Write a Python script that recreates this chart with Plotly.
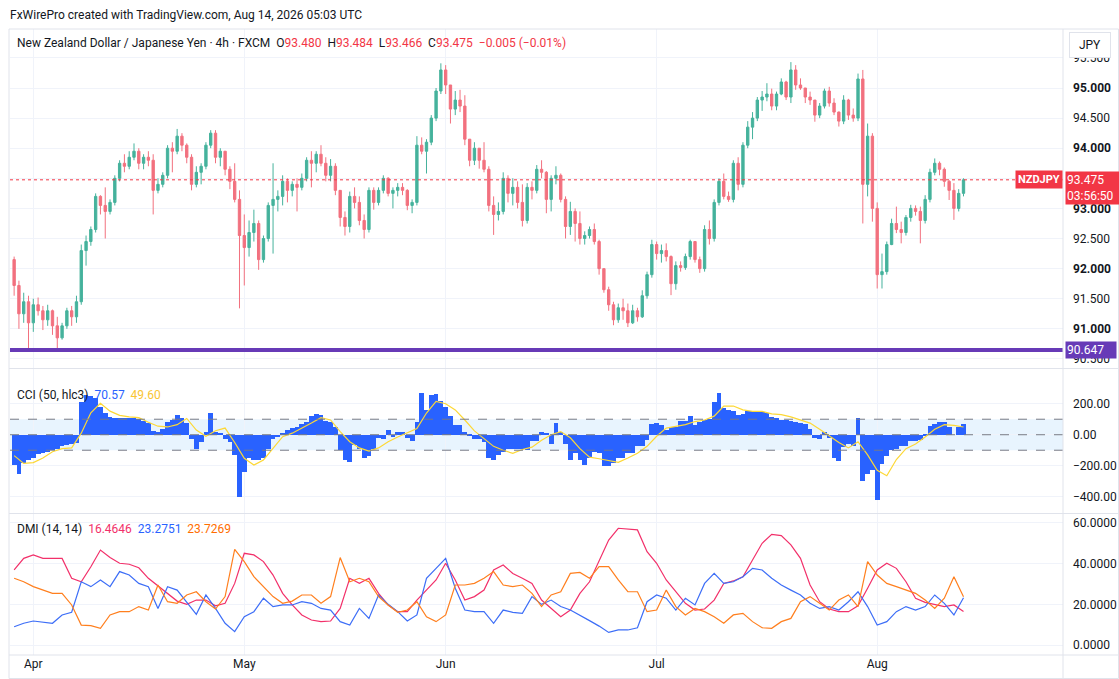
import pandas as pd
import plotly.graph_objects as go
from plotly.subplots import make_subplots

# ---------------- data (12h candles, NZDJPY) ----------------
open_ = [92.15,91.72,91.25,91.45,91.10,91.40,91.30,91.15,91.30,91.05,90.85,91.05,91.30,91.20,91.45,92.30,92.45,92.65,93.20,93.05,
         92.95,93.10,93.50,93.75,93.70,93.85,93.95,93.75,93.85,93.80,93.30,93.40,93.55,94.00,93.95,94.20,94.05,93.85,93.40,93.60,
         93.70,94.05,94.25,93.85,93.95,93.65,93.45,93.15,92.55,92.35,92.60,92.75,92.15,92.50,93.05,93.15,93.20,93.45,93.30,93.40,
         93.35,93.50,93.80,93.75,93.90,93.75,93.55,93.70,93.30,92.85,92.70,93.20,93.10,92.80,92.65,93.30,93.10,93.30,93.50,93.25,
         93.30,93.35,93.30,93.05,93.10,94.05,93.95,94.10,94.50,94.95,95.30,95.05,94.65,94.80,94.70,94.15,93.80,94.00,93.80,93.65,
         93.05,92.90,92.95,93.50,93.25,93.35,93.10,92.80,93.35,93.30,93.65,93.60,93.15,93.50,93.55,93.15,92.70,92.95,92.75,92.50,
         92.55,92.65,92.45,92.00,91.65,91.40,91.15,91.35,91.30,91.10,91.30,91.20,91.55,91.90,92.40,92.25,92.30,92.20,91.75,92.05,
         92.02,92.20,92.45,92.15,92.00,92.65,92.50,93.10,93.45,93.20,93.15,93.75,93.40,94.05,94.35,94.50,94.80,94.85,94.90,94.70,
         94.90,95.10,94.85,95.30,95.05,95.00,94.85,94.80,94.55,94.70,94.95,94.75,94.60,94.45,94.80,94.55,94.50,95.15,93.40,94.20,
         93.00,91.90,91.95,92.40,92.75,92.65,92.60,92.85,93.00,92.95,92.80,93.15,93.60,93.75,93.65,93.45,93.30,93.00,93.25]
high = [92.20,91.80,91.60,91.55,91.50,91.52,91.38,91.40,91.32,91.20,91.10,91.35,91.38,91.55,92.40,92.55,92.70,93.25,93.22,93.35,
        93.15,93.55,93.80,93.90,93.95,94.08,94.00,93.90,93.95,93.90,93.50,93.60,94.05,94.10,94.32,94.25,94.08,93.90,93.70,93.75,
        94.10,94.30,94.30,94.00,93.95,93.70,93.75,93.30,92.90,92.80,92.98,92.80,92.55,93.10,93.75,93.30,93.55,93.50,93.45,93.50,
        93.58,93.85,93.95,93.95,94.05,93.85,93.82,93.75,93.30,92.95,93.28,93.35,93.20,92.90,93.35,93.35,93.35,93.55,93.52,93.35,
        93.42,93.42,93.32,93.15,94.20,94.18,94.15,94.55,95.00,95.41,95.38,95.05,94.95,94.97,94.88,94.15,94.10,94.00,94.10,93.70,
        93.20,93.10,93.60,93.55,93.50,93.45,93.40,93.42,93.45,93.72,93.80,93.62,93.55,93.70,93.58,93.20,93.11,93.00,92.95,92.62,
        92.70,92.75,92.48,92.00,91.70,91.45,91.42,91.50,91.42,91.40,91.35,91.64,91.95,92.48,92.45,92.40,92.42,92.22,92.12,92.12,
        92.25,92.48,92.45,92.20,92.72,92.80,93.15,93.50,93.58,93.28,93.80,93.85,94.10,94.45,94.60,94.85,94.95,95.08,94.99,94.94,
        95.16,95.12,95.43,95.38,95.16,95.00,94.94,94.80,94.75,94.99,95.02,94.83,94.61,94.88,94.82,94.66,95.24,95.30,94.41,94.25,
        93.10,92.25,92.45,92.83,93.03,92.78,92.89,93.06,93.05,93.03,93.22,93.66,93.83,93.78,93.68,93.47,93.42,93.32,93.50]
low = [91.55,91.00,91.10,90.67,90.95,91.22,90.98,91.05,90.90,90.66,90.82,91.00,91.05,91.10,91.40,92.05,92.38,92.60,92.90,92.50,
       92.90,93.05,93.45,93.60,93.65,93.80,93.65,93.65,93.70,92.90,93.25,93.35,93.50,93.60,93.90,93.95,93.75,93.30,93.35,93.40,
       93.65,94.00,93.75,93.70,93.55,93.32,93.10,91.34,91.72,92.20,92.45,91.98,92.10,92.45,92.25,92.95,93.05,93.10,93.20,92.95,
       93.30,93.45,93.35,93.60,93.70,93.45,93.45,93.22,92.70,92.55,92.60,93.00,92.72,92.50,92.60,92.98,93.05,93.25,93.20,93.00,
       93.20,93.22,92.97,92.92,93.05,93.90,93.58,94.05,94.45,94.90,94.90,94.41,94.55,94.60,94.05,93.70,93.72,93.66,93.60,92.95,
       92.56,92.80,92.90,93.10,93.05,93.00,92.70,92.75,93.15,93.25,93.50,92.92,92.95,93.40,93.10,92.50,92.56,92.45,92.40,92.40,
       92.50,92.40,91.90,91.60,91.30,91.06,91.10,91.15,91.03,91.08,91.12,91.18,91.50,91.85,92.15,92.10,92.12,91.56,91.65,91.95,
       91.98,92.15,92.10,91.93,91.95,92.40,92.45,93.05,93.15,93.11,93.10,93.30,93.35,94.00,94.15,94.45,94.62,94.78,94.63,94.63,
       94.88,94.80,94.75,94.97,94.97,94.75,94.72,94.44,94.50,94.66,94.69,94.55,94.36,94.40,94.47,94.44,94.45,92.75,93.20,92.78,
       91.67,91.67,91.90,92.39,92.59,92.42,92.55,92.78,92.88,92.42,92.75,93.10,93.55,93.55,93.36,93.14,92.81,92.95,93.20]
close = [91.72,91.25,91.45,91.10,91.40,91.30,91.15,91.30,91.05,90.85,91.05,91.30,91.20,91.45,92.30,92.45,92.65,93.20,93.05,92.95,
         93.10,93.50,93.75,93.70,93.85,93.95,93.75,93.85,93.80,93.30,93.40,93.55,94.00,93.95,94.20,94.05,93.85,93.40,93.60,93.70,
         94.05,94.25,93.85,93.95,93.65,93.45,93.15,92.55,92.35,92.60,92.75,92.15,92.50,93.05,93.15,93.20,93.45,93.30,93.40,93.35,
         93.50,93.80,93.75,93.90,93.75,93.55,93.70,93.30,92.85,92.70,93.20,93.10,92.80,92.65,93.30,93.10,93.30,93.50,93.25,93.30,
         93.35,93.30,93.05,93.10,94.05,93.95,94.10,94.50,94.95,95.30,95.05,94.65,94.80,94.70,94.15,93.80,94.00,93.80,93.65,93.05,
         92.90,92.95,93.50,93.25,93.35,93.10,92.80,93.35,93.30,93.65,93.60,93.15,93.50,93.55,93.15,92.70,92.95,92.75,92.50,92.55,
         92.65,92.45,92.00,91.65,91.40,91.15,91.35,91.30,91.10,91.30,91.20,91.55,91.90,92.40,92.25,92.30,92.20,91.75,92.05,92.02,
         92.20,92.45,92.15,92.00,92.65,92.50,93.10,93.45,93.20,93.15,93.75,93.40,94.05,94.35,94.50,94.80,94.85,94.90,94.70,94.90,
         95.10,94.85,95.30,95.05,95.00,94.85,94.80,94.55,94.70,94.95,94.75,94.60,94.45,94.80,94.55,94.50,95.15,93.40,94.20,93.00,
         91.90,91.95,92.40,92.75,92.65,92.60,92.85,93.00,92.95,92.80,93.15,93.60,93.75,93.65,93.45,93.30,93.00,93.25,93.475]

cci = [-196,-250,-185,-165,-150,-125,-115,-110,-100,-95,-70,-65,-60,-55,210,255,250,235,180,140,
       115,110,105,110,105,110,100,90,75,25,15,35,80,95,130,110,75,-30,-90,-50,
       20,140,20,10,-25,-45,-130,-400,-240,-150,-160,-165,-150,-95,-30,-15,10,33,45,50,
       70,80,120,135,125,90,85,50,-100,-160,-175,-65,-90,-150,-140,-95,-20,-25,30,-15,
       15,15,-20,-40,85,270,160,255,260,220,180,120,65,60,15,-10,-25,-25,-50,-150,
       -160,-130,-110,-95,-95,-95,-95,-100,-40,-40,20,10,-60,76,15,-60,-160,-120,-160,-196,
       -150,-110,-120,-200,-200,-180,-150,-150,-115,-115,-75,-70,-35,70,75,60,30,50,50,90,
       90,120,65,80,95,100,210,272,170,160,150,130,135,150,150,150,145,140,115,110,
       95,95,90,80,75,70,40,-20,-30,15,-20,-150,-170,-80,-60,-75,110,-300,-250,-230,
       -420,-190,-135,-100,-95,-75,-70,-40,-40,-35,-5,55,70,85,80,50,0,50,70.57]

# daily (every second candle) values
cci_ma = [-135,-185,-180,-150,-110,-90,-85,10,141,202,152,125,115,110,80,55,50,65,105,30,
          -10,26,43,-50,-152,-196,-163,-91,-13,10,40,75,110,95,20,-45,-85,-105,-85,-45,
          -15,15,40,140,215,200,160,95,25,-25,-75,-100,-120,-95,-80,-35,0,20,-20,-90,
          -145,-155,-165,-178,-150,-120,-75,-10,43,55,65,85,95,120,185,185,160,150,150,135,
          130,115,95,75,35,-10,-50,-85,-45,-130,-230,-265,-160,-90,-60,-15,35,65,60,49.6]

adx = [36.9,42.6,44.3,42.6,42.6,42.6,32.8,31.1,38.5,46.7,43.0,40.2,39.7,38.0,32.8,29.2,25.4,21.6,20.0,22.1,
       22.1,19.3,20.5,30.3,45.1,44.3,41.0,34.4,25.4,19.7,14.8,12.3,11.5,11.8,18.0,32.8,30.3,32.8,25.4,19.7,
       16.4,16.4,22.1,27.0,32.0,40.2,32.0,22.1,23.8,27.0,
       36.9,39.3,35.2,32.8,30.3,22.1,18.0,13.9,17.2,25.4,31.1,41.0,51.6,57.4,57.0,56.6,45.9,40.2,32.0,26.2,
       20.5,17.2,17.7,22.1,30.3,31.5,33.6,41.8,50.0,54.4,53.8,49.2,42.6,29.5,21.3,17.7,16.4,16.4,19.3,27.9,
       36.9,40.2,37.7,31.1,23.0,21.0,20.0,18.9,19.7,16.4646]
plus_di = [9.0,10.7,11.8,11.1,10.7,14.8,16.1,31.1,28.7,32.0,28.7,36.1,34.4,30.3,28.7,18.0,28.7,27.0,21.3,15.1,
           24.6,18.0,10.7,6.6,13.9,16.4,23.0,18.9,19.7,19.7,21.3,20.5,18.0,17.2,11.5,9.8,18.0,13.1,24.6,20.0,
           16.4,11.8,14.8,32.8,37.7,42.6,27.9,17.2,16.4,16.4,
           10.7,17.2,16.1,15.6,23.8,20.0,22.1,18.9,17.2,14.8,12.0,9.3,6.2,7.4,7.4,8.5,21.3,24.6,23.0,17.2,
           23.0,19.7,30.3,35.2,30.3,31.1,33.6,37.7,36.9,32.8,29.5,27.0,24.6,20.5,18.0,18.9,17.2,21.3,26.2,18.9,
           9.8,11.5,16.4,18.9,17.2,18.9,24.6,20.5,14.8,23.2751]
minus_di = [32.8,31.1,28.7,27.0,25.4,25.4,19.7,9.8,9.5,8.2,14.8,16.4,16.4,18.9,17.2,29.5,21.3,20.5,24.6,26.2,
            21.3,17.7,23.8,47.0,41.0,33.6,28.7,23.8,20.5,21.6,24.6,24.6,20.5,23.8,43.0,31.1,32.8,31.1,23.8,19.7,
            16.1,17.2,21.3,13.9,11.5,14.8,29.5,29.5,30.3,32.8,
            36.1,29.5,28.7,29.5,25.4,18.9,24.6,26.2,35.2,35.7,32.8,38.5,38.5,32.0,26.2,26.2,16.4,17.2,27.0,18.9,
            14.8,18.0,16.4,13.9,10.7,14.8,15.6,11.5,8.5,8.2,11.5,13.1,21.3,23.8,20.5,17.2,22.1,24.6,18.9,41.0,
            34.4,30.3,28.7,27.0,25.4,22.1,18.0,23.0,33.6,23.7269]

last_price = 93.475
level_line = 90.647

month_ticks = ["2026-04-01", "2026-05-01", "2026-06-01", "2026-07-01", "2026-08-03"]
month_labels = ["Apr", "May", "Jun", "Jul", "Aug"]
price_ticks = [90.5, 91.0, 91.5, 92.0, 92.5, 93.0, 93.5, 94.0, 94.5, 95.0, 95.5]
price_labels = ["90.500", "<b>91.000</b>", "91.500", "<b>92.000</b>", "92.500", "<b>93.000</b>",
                "", "<b>94.000</b>", "94.500", "<b>95.000</b>", "95.500"]
cci_ticks = [200, 0, -200, -400]
cci_labels = ["200.00", "0.00", "\u2212200.00", "\u2212400.00"]
dmi_ticks = [60, 40, 20, 0]
dmi_labels = ["60.0000", "40.0000", "20.0000", "0.0000"]

# ---------------- time index ----------------
days = pd.bdate_range("2026-03-30", "2026-08-14")
times = []
for d in days:
    times.append(d)
    times.append(d + pd.Timedelta(hours=12))
times = times[:len(close)]
daily = times[::2]

FONT = "Roboto"
TXT = "#131722"
GRID = "#F0F3FA"
UP = "#45B29C"
DOWN = "#F2717F"

fig = make_subplots(rows=3, cols=1, shared_xaxes=True, vertical_spacing=0)

fig.add_trace(go.Candlestick(
    x=times, open=open_, high=high, low=low, close=close,
    increasing=dict(line=dict(color=UP, width=1), fillcolor=UP),
    decreasing=dict(line=dict(color=DOWN, width=1), fillcolor=DOWN),
    whiskerwidth=0, showlegend=False, hoverinfo="skip"), row=1, col=1)

fig.add_trace(go.Bar(x=times, y=cci, marker=dict(color="#2962FF", line=dict(width=0)),
                     showlegend=False, hoverinfo="skip"), row=2, col=1)
fig.add_trace(go.Scatter(x=daily, y=cci_ma, mode="lines", line=dict(color="#FDD835", width=1.2),
                         showlegend=False, hoverinfo="skip"), row=2, col=1)

fig.add_trace(go.Scatter(x=daily, y=adx, mode="lines", line=dict(color="#F2306A", width=1.2),
                         showlegend=False, hoverinfo="skip"), row=3, col=1)
fig.add_trace(go.Scatter(x=daily, y=plus_di, mode="lines", line=dict(color="#3D6EF7", width=1.2),
                         showlegend=False, hoverinfo="skip"), row=3, col=1)
fig.add_trace(go.Scatter(x=daily, y=minus_di, mode="lines", line=dict(color="#FF7F1E", width=1.2),
                         showlegend=False, hoverinfo="skip"), row=3, col=1)

xr = ["2026-03-27 13:40", "2026-08-28 09:00"]
fig.update_xaxes(range=xr, rangebreaks=[dict(bounds=["sat", "mon"])],
                 showgrid=True, gridcolor=GRID, gridwidth=1, zeroline=False,
                 tickmode="array", tickvals=month_ticks, ticktext=month_labels,
                 showline=False, ticks="", rangeslider=dict(visible=False), automargin=False,
                 tickfont=dict(family=FONT, size=12, color=TXT))
fig.update_xaxes(showticklabels=False, row=1, col=1)
fig.update_xaxes(showticklabels=False, row=2, col=1)
fig.update_xaxes(showticklabels=True, row=3, col=1)

axis_common = dict(side="right", showgrid=True, gridcolor=GRID, zeroline=False, ticks="",
                   showline=False, tickmode="array", ticklabelstandoff=9, automargin=False,
                   tickfont=dict(family=FONT, size=12, color=TXT))
fig.update_yaxes(range=[90.35, 95.98], tickvals=price_ticks, ticktext=price_labels,
                 domain=[0.4585, 1.0], row=1, col=1, **axis_common)
fig.update_yaxes(range=[-505, 424], tickvals=cci_ticks, ticktext=cci_labels,
                 domain=[0.2268, 0.4569], row=2, col=1, **axis_common)
fig.update_yaxes(range=[-4.9, 64.4], tickvals=dmi_ticks, ticktext=dmi_labels,
                 domain=[0.0, 0.2252], row=3, col=1, **axis_common)

shapes = []
# CCI band and levels
shapes.append(dict(type="rect", xref="x2 domain", yref="y2", x0=0, x1=1, y0=-100, y1=100,
                   fillcolor="rgba(33,150,243,0.10)", line=dict(width=0), layer="below"))
for lv in (100, 0, -100):
    shapes.append(dict(type="line", xref="x2 domain", yref="y2", x0=0, x1=1, y0=lv, y1=lv,
                       line=dict(color="#787B86", width=1, dash="dash"), layer="above"))
# price lines
shapes.append(dict(type="line", xref="x domain", yref="y", x0=0, x1=1, y0=last_price, y1=last_price,
                   line=dict(color="#F23645", width=1, dash="dot")))
shapes.append(dict(type="line", xref="x domain", yref="y", x0=0, x1=1, y0=level_line, y1=level_line,
                   line=dict(color="#673AB7", width=4)))
# frame & pane separators (paper coords)
def px_x(px):
    return (px - 10) / 1053.0
def px_y(py):
    return (655 - py) / 626.0
shapes.append(dict(type="rect", xref="paper", yref="paper", x0=px_x(9), x1=px_x(1118.5),
                   y0=px_y(678.5), y1=px_y(29), line=dict(color="#E0E3EB", width=1)))
for py in (368.5, 513.5, 655):
    shapes.append(dict(type="line", xref="paper", yref="paper", x0=px_x(9), x1=px_x(1118.5),
                       y0=px_y(py), y1=px_y(py), line=dict(color="#E0E3EB", width=1)))
shapes.append(dict(type="line", xref="paper", yref="paper", x0=1.0, x1=1.0,
                   y0=px_y(678.5), y1=px_y(29), line=dict(color="#E0E3EB", width=1)))

annotations = []
annotations.append(dict(xref="paper", yref="paper", x=px_x(8), y=px_y(15), xanchor="left", yanchor="middle",
                        text="FxWirePro created with TradingView.com, Aug 14, 2026 05:03 UTC",
                        showarrow=False, font=dict(family=FONT, size=12, color=TXT)))
red = "#F23645"
legend_txt = ("New Zealand Dollar / Japanese Yen \u00b7 4h \u00b7 FXCM&nbsp;&nbsp;"
              f"O<span style='color:{red}'>93.480</span>&nbsp;&nbsp;"
              f"H<span style='color:{red}'>93.484</span>&nbsp;&nbsp;"
              f"L<span style='color:{red}'>93.466</span>&nbsp;&nbsp;"
              f"C<span style='color:{red}'>93.475</span>&nbsp;&nbsp;"
              f"<span style='color:{red}'>\u22120.005 (\u22120.01%)</span>")
annotations.append(dict(xref="paper", yref="paper", x=px_x(15), y=px_y(43), xanchor="left", yanchor="middle",
                        text=legend_txt, showarrow=False, font=dict(family=FONT, size=12, color=TXT)))
annotations.append(dict(xref="paper", yref="paper", x=px_x(15), y=px_y(395), xanchor="left", yanchor="middle",
                        text="CCI (50, hlc3)&nbsp;&nbsp;<span style='color:#2962FF'>70.57</span>&nbsp;&nbsp;"
                             "<span style='color:#F9C532'>49.60</span>",
                        showarrow=False, font=dict(family=FONT, size=12, color=TXT)))
annotations.append(dict(xref="paper", yref="paper", x=px_x(15), y=px_y(529), xanchor="left", yanchor="middle",
                        text="DMI (14, 14)&nbsp;&nbsp;<span style='color:#F2306A'>16.4646</span>&nbsp;&nbsp;"
                             "<span style='color:#2962FF'>23.2751</span>&nbsp;&nbsp;"
                             "<span style='color:#FF6D00'>23.7269</span>",
                        showarrow=False, font=dict(family=FONT, size=12, color=TXT)))
# right-side labels
annotations.append(dict(xref="paper", yref="paper", x=px_x(1090), y=px_y(45), xanchor="center", yanchor="middle",
                        text="JPY", showarrow=False, bgcolor="white", bordercolor="#E0E3EB", borderwidth=1,
                        borderpad=5, width=30, font=dict(family=FONT, size=12, color=TXT)))
annotations.append(dict(xref="paper", yref="y", x=1.0, y=last_price, xanchor="right", yanchor="middle",
                        text="<b>NZDJPY</b>", showarrow=False, bgcolor=red, borderpad=2,
                        font=dict(family=FONT, size=11, color="white")))
annotations.append(dict(xref="paper", yref="y", x=px_x(1065), y=last_price, xanchor="left", yanchor="top",
                        yshift=9, text="93.475<br>03:56:50", align="left", showarrow=False, bgcolor=red,
                        borderpad=1, width=52, font=dict(family=FONT, size=12, color="white")))
annotations.append(dict(xref="paper", yref="y", x=px_x(1065), y=level_line, xanchor="left", yanchor="middle",
                        text="90.647", align="left", showarrow=False, bgcolor="#673AB7", borderpad=1,
                        width=48, font=dict(family=FONT, size=12, color="white")))

fig.update_layout(width=1119, height=679, margin=dict(l=10, r=56, t=29, b=24, autoexpand=False),
                  paper_bgcolor="white", plot_bgcolor="white", bargap=0,
                  shapes=shapes, annotations=annotations, showlegend=False,
                  font=dict(family=FONT, size=12, color=TXT), hovermode=False)

fig.write_html("out.html", config={"displayModeBar": False},
               post_script="document.body.style.margin='0px';document.body.style.overflow='hidden';")
